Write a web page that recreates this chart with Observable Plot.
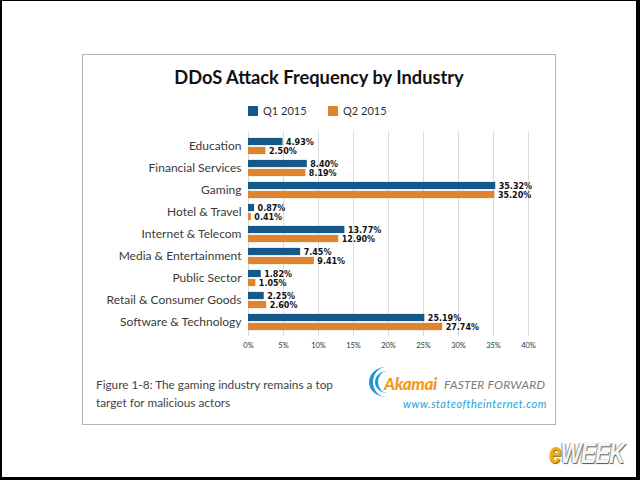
<!DOCTYPE html>
<html>
<head>
<meta charset="utf-8">
<script src="https://cdn.jsdelivr.net/npm/d3@7"></script>
<script src="https://cdn.jsdelivr.net/npm/@observablehq/plot@0.6"></script>
<style>
  html, body { margin: 0; padding: 0; }
  body { width: 640px; height: 480px; background: #000; position: relative; overflow: hidden; font-family: Lato, "Open Sans", sans-serif; }
  .abs { position: absolute; }
  #page { left: 2px; top: 1px; width: 634px; height: 476px; background: #fff; }
  #card { left: 82px; top: 54px; width: 474px; height: 371px; border: 1px solid #b3b3b3; box-sizing: border-box; }
  #title { left: 82px; width: 474px; top: 65px; text-align: center; font-size: 18.3px; font-weight: 700; color: #111; line-height: 24px; }
  .sw { width: 10px; height: 10px; }
  .lg { font-size: 11px; color: #333; line-height: 12px; }
  #chart { left: 85px; top: 125px; }
  #chart svg [aria-label^="x-axis"] text { font-size: 7.5px; fill: #333; }
  #caption { left: 96px; top: 376px; font-size: 11.8px; color: #444; line-height: 18px; }
  #akamai { left: 384px; top: 373px; font-size: 17px; font-weight: 900; font-style: italic; color: #f49b1c; line-height: 22px; letter-spacing: -0.4px; }
  #faster { left: 444px; top: 378px; font-size: 12px; font-style: italic; color: #7a7a7a; line-height: 14px; letter-spacing: 0.2px; }
  #url { left: 403px; top: 397px; font-size: 11px; font-style: italic; color: #2a9fd8; line-height: 13px; letter-spacing: 0.5px; }
  .arc { border-radius: 50%; border-style: solid; border-color: transparent; border-left-color: #1f95d0; }
  #eweek { left: 549px; top: 436px; font-size: 30px; font-weight: 900; font-style: italic; line-height: 34px; letter-spacing: -1px; font-family: "Liberation Sans", Arial, sans-serif; transform: scaleX(0.74); transform-origin: 0 0; white-space: nowrap; }
  #eweek .e { color: #f2ad1c; text-shadow: 1px 1px 1px #7a5a00; }
  #eweek .w { color: #f5f5f5; text-shadow: 1px 1px 1px #555, -1px 0 1px #888; }
</style>
</head>
<body>
<div id="page" class="abs"></div>
<div id="card" class="abs"></div>
<div id="title" class="abs">DDoS Attack Frequency by Industry</div>
<div id="legend"></div>
<div id="chart" class="abs"></div>
<div id="caption" class="abs">Figure 1-8: The gaming industry remains a top<br>target for malicious actors</div>
<div class="abs arc" style="left:369px;top:367px;width:30px;height:30px;border-width:0 0 0 4px;"></div>
<div class="abs arc" style="left:375px;top:371px;width:22px;height:22px;border-width:0 0 0 3px;"></div>
<div id="akamai" class="abs">Akamai</div>
<div id="faster" class="abs">FASTER FORWARD</div>
<div id="url" class="abs">www.stateoftheinternet.com</div>
<div id="eweek" class="abs"><span class="e">e</span><span class="w">WEEK</span></div>
<script>
const industries = ["Education", "Financial Services", "Gaming", "Hotel & Travel", "Internet & Telecom", "Media & Entertainment", "Public Sector", "Retail & Consumer Goods", "Software & Technology"];
const series = ["Q1 2015", "Q2 2015"];
const q1 = [4.93, 8.40, 35.32, 0.87, 13.77, 7.45, 1.82, 2.25, 25.19];
const q2 = [2.50, 8.19, 35.20, 0.41, 12.90, 9.41, 1.05, 2.60, 27.74];
const xTicks = [0, 5, 10, 15, 20, 25, 30, 35, 40];
const colors = ["#14598a", "#e0832f"];

// legend
const legend = document.getElementById("legend");
const legendPos = [{sq: 248, tx: 263}, {sq: 328, tx: 343}];
series.forEach((s, i) => {
  const sw = document.createElement("div");
  sw.className = "abs sw";
  sw.style.left = legendPos[i].sq + "px";
  sw.style.top = "106px";
  sw.style.background = colors[i];
  legend.appendChild(sw);
  const t = document.createElement("div");
  t.className = "abs lg";
  t.style.left = legendPos[i].tx + "px";
  t.style.top = "105px";
  t.textContent = s;
  legend.appendChild(t);
});

const rowsQ1 = industries.map((d, i) => ({industry: d, series: series[0], value: q1[i]}));
const rowsQ2 = industries.map((d, i) => ({industry: d, series: series[1], value: q2[i]}));

const plotH = 205;
const step = plotH / industries.length;
const half = step / 2;
const barH = 8;
const gap = 0.5;

const chart = Plot.plot({
  width: 470,
  height: 232,
  marginLeft: 163,
  marginRight: 27,
  marginTop: 6,
  marginBottom: 21,
  style: {fontFamily: "Lato, sans-serif", fontSize: "12px", color: "#3a3a3a", background: "transparent"},
  x: {domain: [0, 40], ticks: xTicks, tickFormat: d => d + "%", tickSize: 0, tickPadding: 6, label: null},
  y: {domain: industries, padding: 0, tickSize: 0, tickPadding: 7, label: null},
  marks: [
    Plot.ruleX(xTicks, {stroke: "#dcdcdc", strokeWidth: 1}),
    Plot.barX(rowsQ1, {y: "industry", x: "value", fill: colors[0], insetTop: half - gap - barH, insetBottom: half + gap}),
    Plot.barX(rowsQ2, {y: "industry", x: "value", fill: colors[1], insetTop: half + gap, insetBottom: half - gap - barH}),
    Plot.text(rowsQ1, {y: "industry", x: "value", text: d => d.value.toFixed(2) + "%", textAnchor: "start", dx: 3, dy: -(gap + barH / 2), fontWeight: "bold", fontSize: 8, fontFamily: "DejaVu Sans, sans-serif", fill: "#111"}),
    Plot.text(rowsQ2, {y: "industry", x: "value", text: d => d.value.toFixed(2) + "%", textAnchor: "start", dx: 3, dy: gap + barH / 2, fontWeight: "bold", fontSize: 8, fontFamily: "DejaVu Sans, sans-serif", fill: "#111"})
  ]
});
document.getElementById("chart").appendChild(chart);
</script>
</body>
</html>
